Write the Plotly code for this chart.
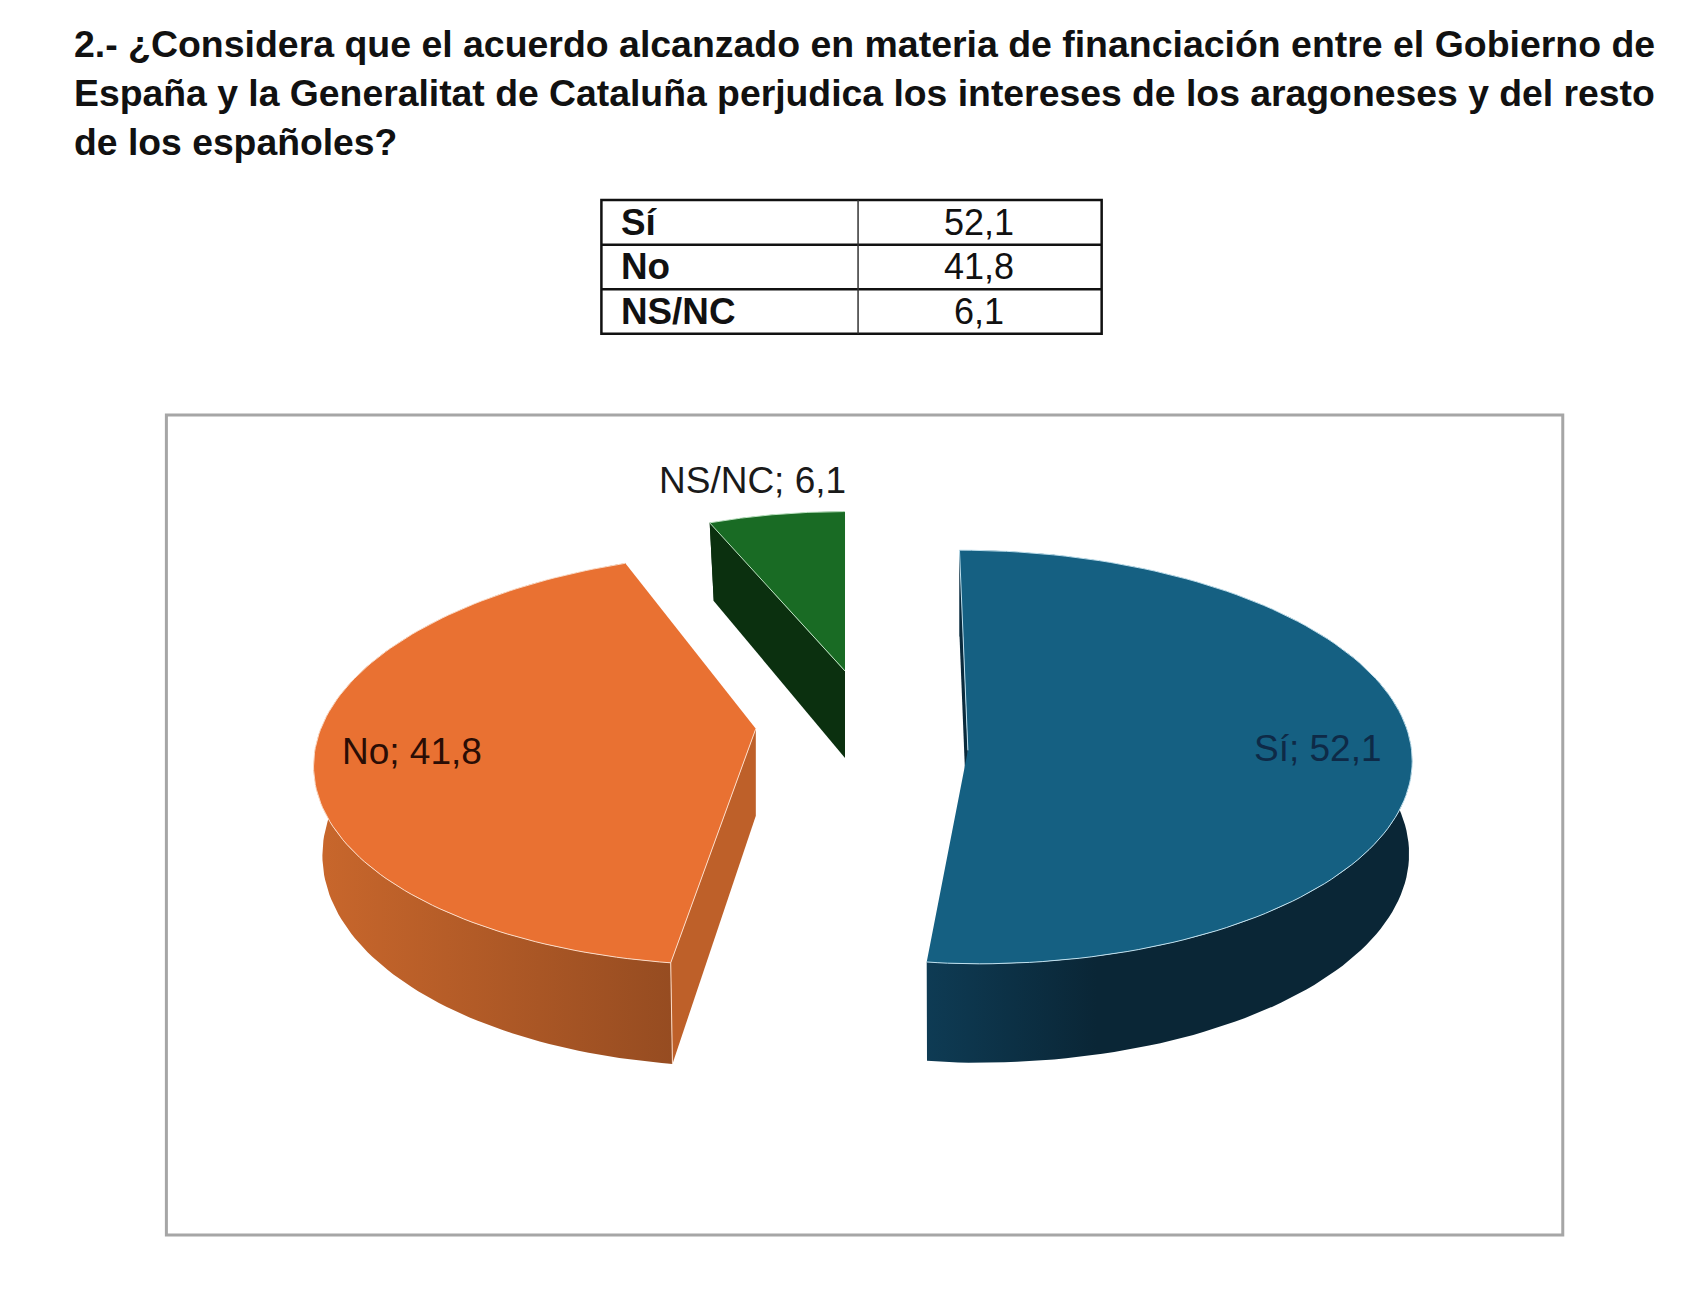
#!/usr/bin/env python3
"""
Pie chart drawn in fake 3D, survey question 2. Plotly has no 3D pie so the
wedges are projected by hand from the values.
"""
import numpy as np
import plotly.graph_objects as go

categories = ['Sí', 'No', 'NS/NC']
values = [52.1, 41.8, 6.1]

title_lines = [
    '2.- ¿Considera que el acuerdo alcanzado en materia de financiación entre el Gobierno de',
    'España y la Generalitat de Cataluña perjudica los intereses de los aragoneses y del resto',
    'de los españoles?',
]
title_sizes = [37.45, 37.33, 37.3]  # the original is justified

top_colors = ['#156082', '#E97132', '#196B24']
edge_colors = ['#BFE0EE', '#FCDCC8', '#BFE5C4']
wall_left = ['#0E3B54', '#C9672C', '#0B300F']
wall_right = ['#0A2636', '#964C21', '#0B300F']
wall_stop = [0.35, 1, 1]
cut_colors = ['#0A2A3C', '#BE6029', '#0B300F']
label_colors = ['#0E2A47', '#2A0D05', '#1A1A1A']

W, H = 1706, 1315
BODY = 8  # page margin the browser puts round the plot
S = 1706 / 1568.7  # measured everything on a 1569 wide view of the page

# per slice projection: apex, half axes, shear, perspective, then how the lower disc sits
GEOM = {
    'Sí': dict(cx=890, cy=690, a=408, al=339, b=190, s=-8, p=0.032, kx=0.993, ky=1.03, d=85),
    'No': dict(cx=695, cy=670, a=400, al=400, b=186, s=14.5, p=0.145, kx=0.98, ky=1.06, d=80),
    'NS/NC': dict(cx=777, cy=617, a=342, al=342, b=151, s=0, p=0.03, kx=0.97, ky=1.06, d=80),
}
LABEL_POS = {'Sí': (1212, 688), 'No': (379, 691), 'NS/NC': (692, 442)}


def project(cat, theta, lower=False):
    g = GEOM[cat]
    u, v = np.sin(theta), np.cos(theta)
    w = 1 + g['p'] * v
    # the left hand part of the big slice is narrower than its right hand part
    dx = (np.where(u < 0, g['al'], g['a']) * u + g['s'] * v) / w
    dy = -g['b'] * v / w
    if lower:
        dx, dy = dx * g['kx'], dy * g['ky'] + g['d']
    return (g['cx'] + dx) * S, (g['cy'] + dy) * S


def apex(cat, lower=False):
    g = GEOM[cat]
    return g['cx'] * S, (g['cy'] + (g['d'] if lower else 0)) * S


def polygon(fig, xs, ys, color, line=None, gradient=None):
    kw = dict(fillgradient=gradient) if gradient else dict(fillcolor=color)
    fig.add_trace(go.Scatter(
        x=list(xs), y=list(ys), mode='lines', fill='toself',
        line=dict(color=line or color, width=1 if line else 0),
        hoverinfo='skip', showlegend=False, **kw))


fig = go.Figure()

# wedge angles, clockwise from 12 o'clock
ends = np.cumsum(values) / sum(values) * 2 * np.pi
starts = np.concatenate([[0], ends[:-1]])

for i in [2, 1, 0]:
    cat = categories[i]
    th = np.linspace(starts[i], ends[i], 120)
    tx, ty = project(cat, th)
    lx, ly = project(cat, th, lower=True)

    # outer wall
    polygon(fig, np.r_[tx, lx[::-1]], np.r_[ty, ly[::-1]], wall_right[i],
            gradient=dict(type='horizontal',
                          colorscale=[[0, wall_left[i]], [wall_stop[i], wall_right[i]], [1, wall_right[i]]]))

    # cut wall
    a0x, a0y = apex(cat)
    a1x, a1y = apex(cat, lower=True)
    c0x, c0y = project(cat, starts[i])
    c1x, c1y = project(cat, starts[i], lower=True)
    polygon(fig, [a0x, c0x, c1x, a1x], [a0y, c0y, c1y, a1y], cut_colors[i])
    if cat == 'No':
        # light seam where the cut wall meets the round one
        fig.add_trace(go.Scatter(x=[c0x, c1x], y=[c0y, c1y], mode='lines', hoverinfo='skip', showlegend=False,
                                 line=dict(color=edge_colors[i], width=1)))

    # top face
    polygon(fig, np.r_[a0x, tx], np.r_[a0y, ty], top_colors[i], line=edge_colors[i])

    lab = str(values[i]).replace('.', ',')
    px, py = LABEL_POS[cat]
    fig.add_annotation(x=px * S, y=py * S, text=f'{cat}; {lab}', showarrow=False,
                       font=dict(family='Liberation Sans', size=37, color=label_colors[i]))

# title
for n, line in enumerate(title_lines):
    fig.add_annotation(x=66.5 * S, y=(40 + 45.5 * n) * S, text=f'<b>{line}</b>', showarrow=False,
                       xanchor='left', font=dict(family='Liberation Sans', size=title_sizes[n], color='#111111'))

# table above the pie
tbl_x = [553, 789, 1013]
tbl_y = [184, 225, 266, 307]
for n, cat in enumerate(categories):
    ym = (tbl_y[n] + tbl_y[n + 1]) / 2 * S
    fig.add_annotation(x=(tbl_x[0] + 16) * S, y=ym, text=f'<b>{cat}</b>', showarrow=False, xanchor='left',
                       font=dict(family='Liberation Sans', size=36.8, color='#111111'))
    fig.add_annotation(x=(tbl_x[1] + tbl_x[2] - 2) / 2 * S, y=ym, text=str(values[n]).replace('.', ','),
                       showarrow=False, font=dict(family='Liberation Sans', size=36, color='#111111'))

shapes = [dict(type='rect', x0=tbl_x[0] * S, x1=tbl_x[2] * S, y0=tbl_y[0] * S, y1=tbl_y[3] * S,
               line=dict(color='#111111', width=2.5))]
for y in tbl_y[1:3]:
    shapes.append(dict(type='line', x0=tbl_x[0] * S, x1=tbl_x[2] * S, y0=y * S, y1=y * S,
                       line=dict(color='#111111', width=2.5)))
shapes.append(dict(type='line', x0=tbl_x[1] * S, x1=tbl_x[1] * S, y0=tbl_y[0] * S, y1=tbl_y[3] * S,
                   line=dict(color='#333333', width=1.5)))
# chart frame
shapes.append(dict(type='rect', x0=153 * S, x1=1437 * S, y0=381.5 * S, y1=1135.5 * S,
                   line=dict(color='#A6A6A6', width=3)))

fig.update_layout(
    width=W - 2 * BODY, height=H - 2 * BODY, margin=dict(l=0, r=0, t=0, b=0),
    paper_bgcolor='white', plot_bgcolor='white', shapes=shapes, showlegend=False,
    xaxis=dict(range=[BODY, W - BODY], visible=False, fixedrange=True),
    yaxis=dict(range=[H - BODY, BODY], visible=False, fixedrange=True),
)
fig.write_html("out.html")
